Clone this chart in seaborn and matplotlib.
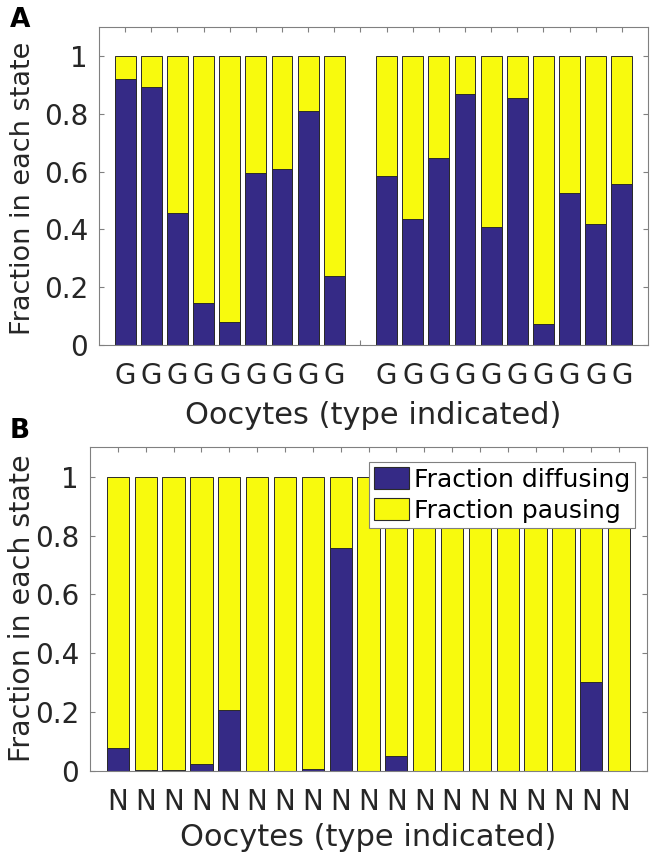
import numpy as np
import pandas as pd
import matplotlib
matplotlib.use("Agg")
import matplotlib.pyplot as plt
from matplotlib.patches import Patch
import seaborn as sns

# ---------------- data ----------------
a_labels = ['G', 'G', 'G', 'G', 'G', 'G', 'G', 'G', 'G', '',
            'G', 'G', 'G', 'G', 'G', 'G', 'G', 'G', 'G', 'G']
a_diffusing = [0.921, 0.893, 0.456, 0.146, 0.080, 0.595, 0.608, 0.810, 0.240, np.nan,
               0.584, 0.436, 0.648, 0.869, 0.407, 0.853, 0.074, 0.525, 0.420, 0.557]

b_labels = ['N'] * 19
b_diffusing = [0.078, 0.003, 0.002, 0.025, 0.207, 0.0, 0.0, 0.007, 0.758, 0.0,
               0.052, 0.0, 0.0, 0.0, 0.0, 0.0, 0.0, 0.301, 0.0]

yticks = [0, 0.2, 0.4, 0.6, 0.8, 1.0]
ytick_labels = ['0', '0.2', '0.4', '0.6', '0.8', '1']
series_names = ['Fraction diffusing', 'Fraction pausing']
xlabel = 'Oocytes (type indicated)'
ylabel = 'Fraction in each state'

BLUE = '#352a86'
YELLOW = '#f8fa0d'
EDGE = '#2a2a2a'
SPINE = '#808080'
TXT = '#262626'

sns.set_style('white')
plt.rcParams['font.family'] = ['DejaVu Sans']

fig = plt.figure(figsize=(6.51, 8.55), dpi=100)
W, H = 651, 855


def px_axes(l, t, r, b):
    return fig.add_axes([l / W, 1 - b / H, (r - l) / W, (b - t) / H])


def draw(ax, labels, diffusing, show_legend, ylabel_size):
    n = len(labels)
    df = pd.DataFrame({
        'slot': np.arange(1, n + 1),
        'diffusing': diffusing,
    })
    df['pausing'] = 1 - df['diffusing']
    df['total'] = df['diffusing'] + df['pausing']
    dfv = df.dropna()
    sns.barplot(data=dfv, x='slot', y='total', native_scale=True, color=YELLOW,
                saturation=1, width=0.8, edgecolor=EDGE, linewidth=0.7, ax=ax,
                errorbar=None)
    sns.barplot(data=dfv, x='slot', y='diffusing', native_scale=True, color=BLUE,
                saturation=1, width=0.8, edgecolor=EDGE, linewidth=0.7, ax=ax,
                errorbar=None)
    ax.set_xlim(0, n + 1)
    ax.set_ylim(0, 1.1)
    ax.set_xticks(df['slot'])
    ax.set_xticklabels(labels)
    ax.set_yticks(yticks)
    ax.set_yticklabels(ytick_labels)
    for s in ax.spines.values():
        s.set_visible(True)
        s.set_color(SPINE)
        s.set_linewidth(0.8)
    ax.tick_params(axis='both', which='major', direction='in', length=3.8, width=0.8,
                   color=SPINE, labelcolor=TXT, labelsize=20, top=True, right=True,
                   bottom=True, left=True)
    ax.tick_params(axis='x', pad=12)
    ax.tick_params(axis='y', pad=8)
    ax.set_xlabel(xlabel, fontsize=22, color=TXT)
    ax.set_ylabel(ylabel, fontsize=ylabel_size, color=TXT)
    if show_legend:
        handles = [Patch(facecolor=BLUE, edgecolor=EDGE, linewidth=0.8),
                   Patch(facecolor=YELLOW, edgecolor=EDGE, linewidth=0.8)]
        leg = ax.legend(handles, series_names, loc='upper right',
                        bbox_to_anchor=(0.9785, 0.9546), borderaxespad=0,
                        fontsize=18, frameon=True, fancybox=False,
                        framealpha=1, edgecolor=SPINE, handlelength=1.4,
                        handleheight=1.0, handletextpad=0.2, borderpad=0.2,
                        labelspacing=0.25)
        leg.get_frame().set_linewidth(0.8)
        for t in leg.get_texts():
            t.set_color('black')


axA = px_axes(99, 26.7, 648, 345.3)
draw(axA, a_labels, a_diffusing, False, 19.5)
axA.xaxis.set_label_coords(0.5, -0.175)
axA.yaxis.set_label_coords(-0.115, 0.494)

axB = px_axes(90, 447.3, 647, 771)
draw(axB, b_labels, b_diffusing, True, 20.5)
axB.xaxis.set_label_coords(0.5, -0.160)
axB.yaxis.set_label_coords(-0.097, 0.503)

fig.text(10 / W, 1 - 27 / H, 'A', fontsize=19, fontweight='bold', va='baseline',
         ha='left', color='black')
fig.text(10 / W, 1 - 438 / H, 'B', fontsize=19, fontweight='bold', va='baseline',
         ha='left', color='black')

fig.savefig('out.png', dpi=100)
